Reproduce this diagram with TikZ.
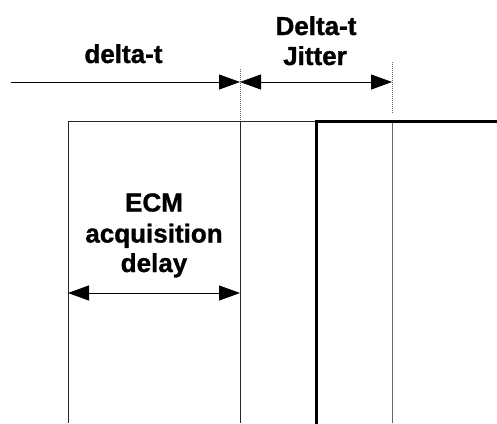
\documentclass[tikz,border=0pt]{standalone}
\usepackage{fontspec}
\setmainfont{Liberation Sans}
\newfontfamily\lblfont{Liberation Sans Bold}[FakeBold=1.2]
\usetikzlibrary{arrows.meta}
\tikzset{
  lbl/.style={font=\fontsize{26}{31}\lblfont, inner sep=0pt, anchor=base},
  thinline/.style={line width=1pt, draw=black!85},
  thickline/.style={line width=3pt, draw=black},
  guide/.style={line width=0.8pt, draw=black!60, dash pattern=on 1pt off 1pt},
  dim/.style={line width=1pt, draw=black},
  tip/.style={-{Triangle[length=21pt,width=15pt]}},
  tips/.style={{Triangle[length=21pt,width=15pt]}-{Triangle[length=21pt,width=15pt]}}
}
\begin{document}
\begin{tikzpicture}[x=1pt,y=-1pt]
\useasboundingbox (0,0) rectangle (497,423);
% coordinates
\coordinate (arrL) at (11,82);
\coordinate (arrM) at (240,82);
\coordinate (arrR) at (392,82);
\coordinate (g1t) at (240,69);
\coordinate (g1b) at (240,121);
\coordinate (g2t) at (392,62);
\coordinate (g2b) at (392,113);
\coordinate (boxTL) at (68,121);
\coordinate (boxBL) at (68,423);
\coordinate (midT) at (240,121);
\coordinate (midB) at (240,423);
\coordinate (stepT) at (316,121);
\coordinate (stepB) at (316,423);
\coordinate (stepR) at (497,121);
\coordinate (jitT) at (392,121);
\coordinate (jitB) at (392,423);
\coordinate (ecmL) at (68,293);
\coordinate (ecmR) at (240,293);
% thin lines
\draw[thinline] (boxBL) -- (boxTL) -- (stepT);
\draw[thinline] (midT) -- (midB);
\draw[thinline, draw=black!60] (jitT) -- (jitB);
% thick step
\draw[thickline, line cap=rect] (stepB) -- (stepT) -- (stepR);
% guides
\draw[guide] (g1t) -- (g1b);
\draw[guide] (g2t) -- (g2b);
% dimension arrows
\draw[dim, tip] (arrL) -- (arrM);
\draw[dim, tips] (arrM) -- (arrR);
\draw[dim, tips] (ecmL) -- (ecmR);
% labels
\node[lbl] (dt) at (123.5,63) {delta-t};
\node[lbl] (Dt) at (316,35) {Delta-t};
\node[lbl] (jit) at (315,65) {Jitter};
\node[lbl] (ecm) at (154,211.5) {ECM};
\node[lbl] (acq) at (154,242.5) {acquisition};
\node[lbl] (del) at (154,272) {delay};
\end{tikzpicture}
\end{document}
